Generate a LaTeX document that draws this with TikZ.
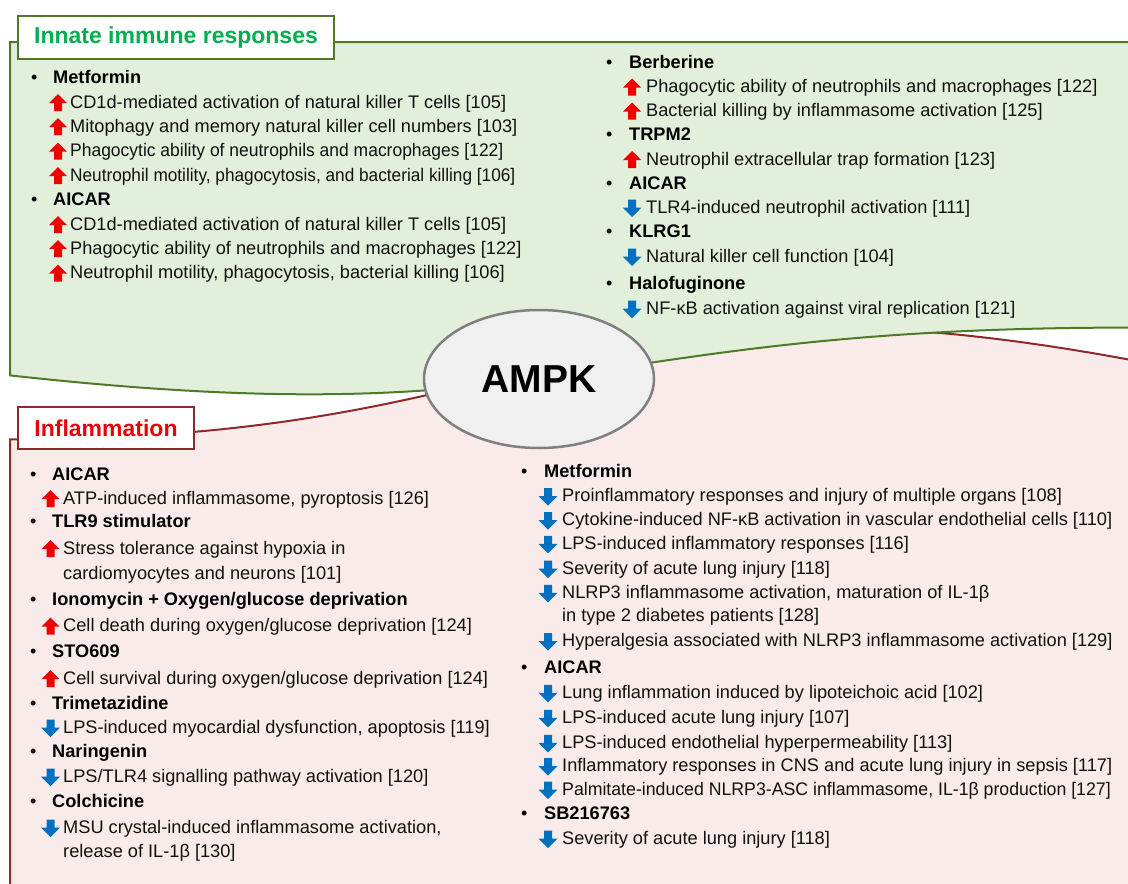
\documentclass[tikz,border=0pt]{standalone}
\usepackage{fontspec}
\usetikzlibrary{shapes.geometric}
\setmainfont{Liberation Sans}
\definecolor{gfill}{HTML}{E2EFDA}
\definecolor{gline}{HTML}{4F7A28}
\definecolor{rfill}{HTML}{F9EBEA}
\definecolor{rline}{HTML}{8E2A2A}
\definecolor{tgreen}{HTML}{00B050}
\definecolor{tred}{HTML}{E8000A}
\definecolor{upcol}{HTML}{EE0000}
\definecolor{dncol}{HTML}{0070C0}
\definecolor{ampkfill}{HTML}{F0F0F0}
\definecolor{ampkline}{HTML}{7F7F7F}
\definecolor{bodytext}{HTML}{111111}
\tikzset{
  txt/.style={anchor=base west, inner sep=0pt, text=bodytext, font=\fontsize{18.2}{21}\selectfont},
  hdr/.style={anchor=base west, inner sep=0pt, font=\fontsize{18.2}{21}\selectfont\bfseries},
  bul/.style={anchor=base west, inner sep=0pt, font=\fontsize{18}{21}\selectfont},
  cond/.style={xscale=#1, transform shape},
  uparr/.pic={\fill[upcol] (0,-8.5) -- (9,0.5) -- (4,0.5) -- (4,8.5) -- (-4,8.5) -- (-4,0.5) -- (-9,0.5) -- cycle;},
  dnarr/.pic={\fill[dncol] (0,9) -- (9.5,-0.5) -- (4,-0.5) -- (4,-8.5) -- (-4,-8.5) -- (-4,-0.5) -- (-9.5,-0.5) -- cycle;},
  titlebox/.style={draw, fill=white, line width=2pt, inner sep=0pt, anchor=north west, font=\fontsize{23}{27}\selectfont\bfseries},
}
\begin{document}
\begin{tikzpicture}[x=1pt,y=-1pt]
\useasboundingbox (0,0) rectangle (1128,884);
\clip (0,0) rectangle (1128,884);
% panels
\filldraw[fill=rfill, draw=rline, line width=2pt]
  (10,920) -- (10,439.4) .. controls (569,439.4) and (569,256.1) .. (1128,359.4) -- (1140,361.6) -- (1140,920) -- cycle;
\filldraw[fill=gfill, draw=gline, line width=2pt]
  (10,375.4) -- (10,42) -- (1140,42) -- (1140,327.6) -- (1128,327.6) .. controls (569,327.6) and (569,437.2) .. (10,375.4) -- cycle;
% titles
\node[titlebox, draw=gline, minimum width=316pt, minimum height=43pt, text=tgreen] (ttl1) at (17,15) {Innate immune responses};
\node[titlebox, draw=rline, minimum width=176pt, minimum height=42pt, text=tred] (ttl2) at (17,406) {Inflammation};
% AMPK
\node[ellipse, draw=ampkline, fill=ampkfill, line width=2.5pt, minimum width=230pt, minimum height=138pt, inner sep=0pt, font=\fontsize{39}{45}\selectfont\bfseries] (ampk) at (539,379) {AMPK};

% ---------- top-left column ----------
\node[bul] (b1) at (31,83) {•};
\node[hdr] (h1) at (53,83) {Metformin};
\pic at (58,102.5) {uparr}; \node[txt] (l1) at (70,108) {CD1d-mediated activation of natural killer T cells [105]};
\pic at (58,126.5) {uparr}; \node[txt] (l2) at (70,132) {Mitophagy and memory natural killer cell numbers [103]};
\pic at (58,151) {uparr}; \node[txt, cond=0.96] (l3) at (70,156.5) {Phagocytic ability of neutrophils and macrophages [122]};
\pic at (58,175.5) {uparr}; \node[txt, cond=0.947] (l4) at (70,181) {Neutrophil motility, phagocytosis, and bacterial killing [106]};
\node[bul] (b2) at (31,205.5) {•};
\node[hdr] (h2) at (53,205.5) {AICAR};
\pic at (58,224.5) {uparr}; \node[txt] (l5) at (70,230) {CD1d-mediated activation of natural killer T cells [105]};
\pic at (58,248.5) {uparr}; \node[txt] (l6) at (70,254) {Phagocytic ability of neutrophils and macrophages [122]};
\pic at (58,273) {uparr}; \node[txt] (l7) at (70,278.5) {Neutrophil motility, phagocytosis, bacterial killing [106]};

% ---------- top-right column ----------
\node[bul] (b3) at (606,68) {•};
\node[hdr] (h3) at (629,68) {Berberine};
\pic at (632,87) {uparr}; \node[txt] (r1) at (646,92.7) {Phagocytic ability of neutrophils and macrophages [122]};
\pic at (632,111) {uparr}; \node[txt] (r2) at (646,116.7) {Bacterial killing by inflammasome activation [125]};
\node[bul] (b4) at (606,140.7) {•};
\node[hdr] (h4) at (629,140.7) {TRPM2};
\pic at (632,159.5) {uparr}; \node[txt] (r3) at (646,165) {Neutrophil extracellular trap formation [123]};
\node[bul] (b5) at (606,189) {•};
\node[hdr] (h5) at (629,189) {AICAR};
\pic at (632,208) {dnarr}; \node[txt] (r4) at (646,213.3) {TLR4-induced neutrophil activation [111]};
\node[bul] (b6) at (606,237.3) {•};
\node[hdr] (h6) at (629,237.3) {KLRG1};
\pic at (632,257) {dnarr}; \node[txt] (r5) at (646,262.3) {Natural killer cell function [104]};
\node[bul] (b7) at (606,289) {•};
\node[hdr] (h7) at (629,289) {Halofuginone};
\pic at (632,309) {dnarr}; \node[txt] (r6) at (646,314.3) {NF-κB activation against viral replication [121]};

% ---------- bottom-left column ----------
\node[bul] (b8) at (30,480.7) {•};
\node[hdr] (h8) at (52,480.7) {AICAR};
\pic at (50.5,498.5) {uparr}; \node[txt] (m1) at (63,504) {ATP-induced inflammasome, pyroptosis [126]};
\node[bul] (b9) at (30,527.7) {•};
\node[hdr] (h9) at (52,527.7) {TLR9 stimulator};
\pic at (50.5,548.5) {uparr}; \node[txt] (m2) at (63,554) {Stress tolerance against hypoxia in};
\node[txt] (m2b) at (63,579.5) {cardiomyocytes and neurons [101]};
\node[bul] (b10) at (30,605) {•};
\node[hdr] (h10) at (52,605) {Ionomycin + Oxygen/glucose deprivation};
\pic at (50.5,626) {uparr}; \node[txt] (m3) at (63,631.7) {Cell death during oxygen/glucose deprivation [124]};
\node[bul] (b11) at (30,657.3) {•};
\node[hdr] (h11) at (52,657.3) {STO609};
\pic at (50.5,678.5) {uparr}; \node[txt] (m4) at (63,684) {Cell survival during oxygen/glucose deprivation [124]};
\node[bul] (b12) at (30,709) {•};
\node[hdr] (h12) at (52,709) {Trimetazidine};
\pic at (50.5,728) {dnarr}; \node[txt] (m5) at (63,733) {LPS-induced myocardial dysfunction, apoptosis [119]};
\node[bul] (b13) at (30,757) {•};
\node[hdr] (h13) at (52,757) {Naringenin};
\pic at (50.5,777) {dnarr}; \node[txt] (m6) at (63,782) {LPS/TLR4 signalling pathway activation [120]};
\node[bul] (b14) at (30,807) {•};
\node[hdr] (h14) at (52,807) {Colchicine};
\pic at (50.5,828) {dnarr}; \node[txt] (m7) at (63,833) {MSU crystal-induced inflammasome activation,};
\node[txt] (m7b) at (63,857) {release of IL-1β [130]};

% ---------- bottom-right column ----------
\node[bul] (b15) at (521,477.3) {•};
\node[hdr] (h15) at (544,477.3) {Metformin};
\pic at (548,496.7) {dnarr}; \node[txt] (n1) at (562,501.7) {Proinflammatory responses and injury of multiple organs [108]};
\pic at (548,520.7) {dnarr}; \node[txt] (n2) at (562,525.7) {Cytokine-induced NF-κB activation in vascular endothelial cells [110]};
\pic at (548,544.3) {dnarr}; \node[txt] (n3) at (562,549.3) {LPS-induced inflammatory responses [116]};
\pic at (548,569) {dnarr}; \node[txt] (n4) at (562,574) {Severity of acute lung injury [118]};
\pic at (548,593.3) {dnarr}; \node[txt] (n5) at (562,598.3) {NLRP3 inflammasome activation, maturation of IL-1β};
\node[txt] (n5b) at (562,621.7) {in type 2 diabetes patients [128]};
\pic at (548,641.7) {dnarr}; \node[txt] (n6) at (562,646.7) {Hyperalgesia associated with NLRP3 inflammasome activation [129]};
\node[bul] (b16) at (521,673.3) {•};
\node[hdr] (h16) at (544,673.3) {AICAR};
\pic at (548,693.3) {dnarr}; \node[txt] (n7) at (562,698.3) {Lung inflammation induced by lipoteichoic acid [102]};
\pic at (548,718.3) {dnarr}; \node[txt] (n8) at (562,723.3) {LPS-induced acute lung injury [107]};
\pic at (548,743.3) {dnarr}; \node[txt] (n9) at (562,748.3) {LPS-induced endothelial hyperpermeability [113]};
\pic at (548,766.7) {dnarr}; \node[txt] (n10) at (562,771.7) {Inflammatory responses in CNS and acute lung injury in sepsis [117]};
\pic at (548,790) {dnarr}; \node[txt, cond=0.973] (n11) at (562,795) {Palmitate-induced NLRP3-ASC inflammasome, IL-1β production [127]};
\node[bul] (b17) at (521,819.3) {•};
\node[hdr] (h17) at (544,819.3) {SB216763};
\pic at (548,839) {dnarr}; \node[txt] (n12) at (562,844) {Severity of acute lung injury [118]};
\end{tikzpicture}
\end{document}
